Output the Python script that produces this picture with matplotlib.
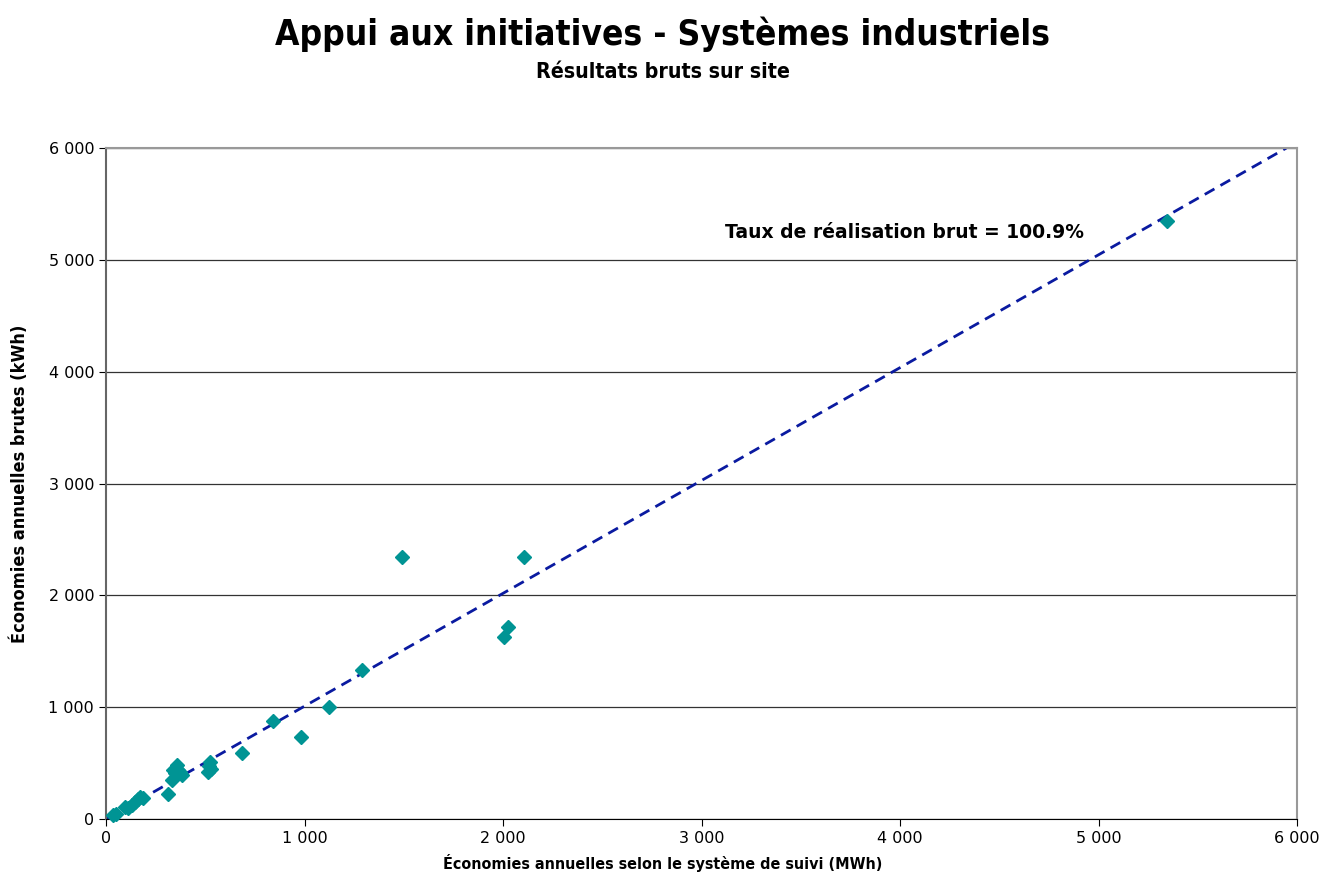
import numpy as np
import matplotlib.pyplot as plt
from matplotlib.ticker import FuncFormatter

# donnees
suivi = [37, 50, 96, 112, 130, 146, 160, 171, 185, 314, 331, 339, 350, 356, 365, 372, 381,
         515, 520, 524, 530, 684, 840, 982, 1125, 1288, 1490, 2005, 2027, 2108, 5344]
brutes = [36, 45, 110, 96, 125, 155, 175, 199, 190, 228, 349, 438, 410, 483, 440, 420, 393,
          422, 470, 511, 450, 593, 879, 736, 1003, 1332, 2340, 1630, 1714, 2340, 5347]
taux = 1.009
ligne_x = [0, 1000, 2000, 3000, 4000, 5000, 5946]
ticks = [0, 1000, 2000, 3000, 4000, 5000, 6000]

def fmt(v, pos):
    return '{:,.0f}'.format(v).replace(',', ' ')

narrow = dict(family='DejaVu Sans', fontstretch='condensed', fontweight='bold')

fig = plt.figure(figsize=(13.25, 8.92), dpi=100)
ax = fig.add_axes([0.080, 0.0818, 0.8989, 0.7523])

ax.plot(ligne_x, [taux * v for v in ligne_x], color='#0a1aa0', lw=2, ls=(0, (4, 2.5)), zorder=2)
ax.plot(suivi, brutes, 'D', color='#009494', markersize=7, markeredgecolor='#009494', zorder=3, clip_on=False)

ax.set_xlim(0, 6000)
ax.set_ylim(0, 6000)
ax.set_xticks(ticks)
ax.set_yticks(ticks)
ax.xaxis.set_major_formatter(FuncFormatter(fmt))
ax.yaxis.set_major_formatter(FuncFormatter(fmt))
ax.tick_params(labelsize=11.5, length=5, direction='out', color='black')
ax.yaxis.grid(True, color='#333333', lw=0.9)
ax.set_axisbelow(True)
for s in ['top', 'right']:
    ax.spines[s].set_color('#999999')
    ax.spines[s].set_linewidth(1.5)
ax.spines['left'].set_color('#666666')
ax.spines['left'].set_linewidth(1.5)
ax.spines['bottom'].set_color('black')

fig.text(0.5, 0.033, 'Économies annuelles selon le système de suivi (MWh)', fontsize=11.5, ha='center', va='center', **narrow)
ax.set_ylabel('Économies annuelles brutes (kWh)', fontsize=13, labelpad=14, **narrow)

ax.text(4025, 5240, 'Taux de réalisation brut = 100.9%', fontsize=13.5, fontweight='bold', ha='center', va='center')

fig.text(0.5, 0.962, 'Appui aux initiatives - Systèmes industriels', fontsize=25.3, ha='center', va='center', **narrow)
fig.text(0.5, 0.919, 'Résultats bruts sur site', fontsize=15.3, ha='center', va='center', **narrow)

fig.savefig('out.png', dpi=100)
